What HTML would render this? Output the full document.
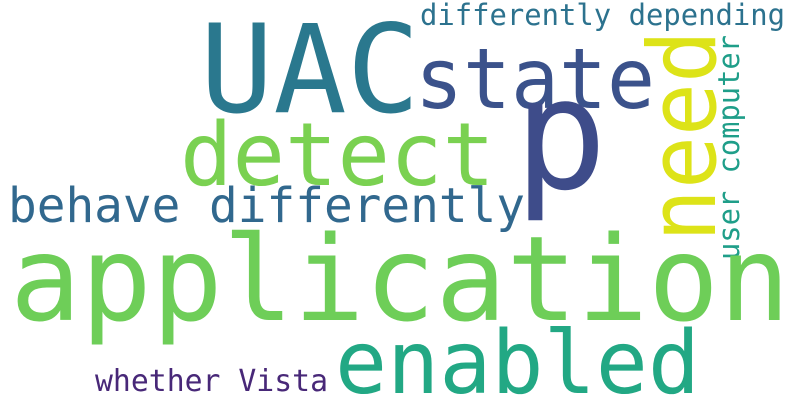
<!DOCTYPE html>
<html>
<head>
<meta charset="utf-8">
<style>
html,body{margin:0;padding:0;background:#fff;}
svg{display:block;}
text{font-family:"DejaVu Sans Mono","Liberation Mono",monospace;}
</style>
</head>
<body>
<svg width="800" height="400" viewBox="0 0 800 400">
<rect width="800" height="400" fill="#ffffff"/>
<text x="200" y="112" font-size="122" fill="#2a788e" textLength="220" lengthAdjust="spacingAndGlyphs">UAC</text>
<text x="415" y="108" font-size="84" fill="#3b528b" textLength="240" lengthAdjust="spacingAndGlyphs">state</text>
<text x="514" y="188" font-size="155" fill="#3e4c8a">p</text>
<text x="420" y="25" font-size="29" fill="#2c728e" textLength="365" lengthAdjust="spacingAndGlyphs">differently depending</text>
<text x="180" y="185" font-size="87" fill="#7ad151" textLength="315" lengthAdjust="spacingAndGlyphs">detect</text>
<text transform="translate(715,242) rotate(-90)" font-size="94" fill="#dde318" textLength="212" lengthAdjust="spacingAndGlyphs">need</text>
<text transform="translate(739,260) rotate(-90)" font-size="29" fill="#1f9e89" textLength="225" lengthAdjust="spacingAndGlyphs">user computer</text>
<text x="8" y="222" font-size="48" fill="#31688e" textLength="517" lengthAdjust="spacingAndGlyphs">behave differently</text>
<text x="10" y="320" font-size="118" fill="#6ece58" textLength="780" lengthAdjust="spacingAndGlyphs">application</text>
<text x="335" y="393" font-size="87" fill="#22a884" textLength="365" lengthAdjust="spacingAndGlyphs">enabled</text>
<text x="95" y="391" font-size="30" fill="#482878" textLength="233" lengthAdjust="spacingAndGlyphs">whether Vista</text>
</svg>
</body>
</html>
